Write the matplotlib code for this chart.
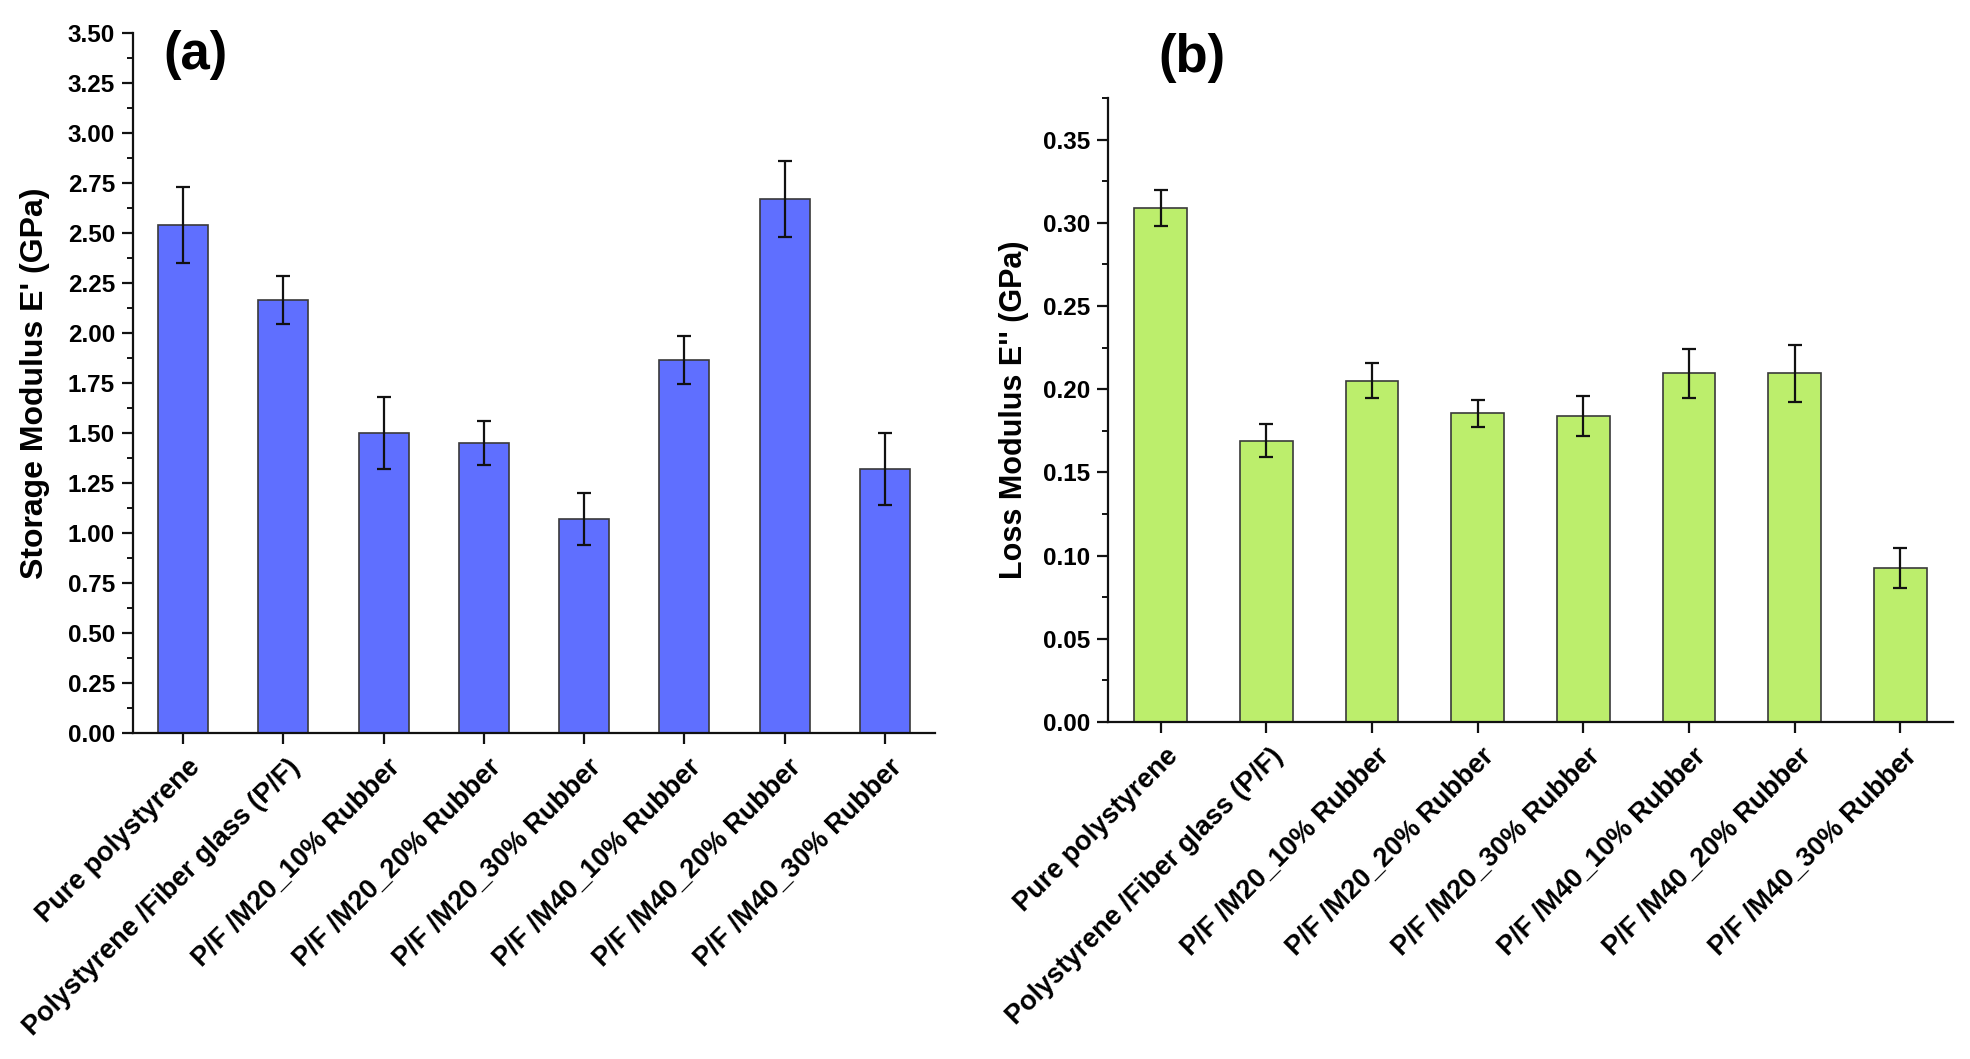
import matplotlib
matplotlib.use("Agg")
import matplotlib.pyplot as plt
from matplotlib.ticker import MultipleLocator, FormatStrFormatter
from matplotlib.transforms import ScaledTranslation

plt.rcParams['font.family'] = ['Liberation Sans', 'DejaVu Sans']

categories = ["Pure polystyrene", "Polystyrene /Fiber glass (P/F)",
              "P/F /M20_10% Rubber", "P/F /M20_20% Rubber", "P/F /M20_30% Rubber",
              "P/F /M40_10% Rubber", "P/F /M40_20% Rubber", "P/F /M40_30% Rubber"]
storage = [2.54, 2.165, 1.50, 1.45, 1.07, 1.865, 2.67, 1.32]
storage_err = [0.19, 0.12, 0.18, 0.11, 0.13, 0.12, 0.19, 0.18]
loss = [0.309, 0.169, 0.205, 0.1855, 0.184, 0.2095, 0.2095, 0.0925]
loss_err = [0.011, 0.010, 0.0105, 0.008, 0.012, 0.0145, 0.017, 0.0118]

W, H = 1970, 1059
fig = plt.figure(figsize=(W / 100, H / 100), dpi=100)

def px_axes(x0, x1, ytop, ybot):
    return fig.add_axes([x0 / W, 1 - ybot / H, (x1 - x0) / W, (ybot - ytop) / H])

ax1 = px_axes(133, 935, 33, 733)
ax2 = px_axes(1108, 1953, 98, 722)

def style(ax, vals, errs, color, ylim, major, minor, fmt, ylabel, labx, labsize):
    x = list(range(len(vals)))
    ax.bar(x, vals, width=0.5, color=color, edgecolor='#3a3a3a', linewidth=1.2, zorder=2)
    ax.errorbar(x, vals, yerr=errs, fmt='none', ecolor='#111111', elinewidth=1.6,
                capsize=5, capthick=1.6, zorder=3)
    ax.set_xlim(-0.5, len(vals) - 0.5)
    ax.set_ylim(*ylim)
    ax.yaxis.set_major_locator(MultipleLocator(major))
    ax.yaxis.set_minor_locator(MultipleLocator(minor))
    ax.yaxis.set_major_formatter(FormatStrFormatter(fmt))
    for s in ['top', 'right']:
        ax.spines[s].set_visible(False)
    for s in ['left', 'bottom']:
        ax.spines[s].set_linewidth(1.6)
        ax.spines[s].set_color('#111111')
    ax.tick_params(axis='both', which='major', direction='out', length=8, width=1.6,
                   color='#111111', labelsize=17.5, pad=5)
    ax.tick_params(axis='y', which='minor', direction='out', length=4, width=1.4, color='#111111')
    for lab in ax.get_yticklabels():
        lab.set_fontweight('bold')
    ax.set_xticks(x)
    ax.set_xticklabels(categories, rotation=45, ha='right', va='center',
                       rotation_mode='anchor', fontsize=19.5, fontweight='bold')
    ax.tick_params(axis='x', pad=14)
    shift = ScaledTranslation(13 / 100, 0, fig.dpi_scale_trans)
    for lab in ax.get_xticklabels():
        lab.set_transform(lab.get_transform() + shift)
    ax.set_ylabel(ylabel, fontsize=labsize, fontweight='bold')
    ax.yaxis.set_label_coords(labx, 0.5)

style(ax1, storage, storage_err, '#5f6fff', (0, 3.5), 0.25, 0.125, '%.2f',
      "Storage Modulus E' (GPa)", -0.1035, 23)
style(ax2, loss, loss_err, '#bcee6c', (0, 0.375), 0.05, 0.025, '%.2f',
      "Loss Modulus E'' (GPa)", -0.0935, 22)

fig.text(195 / W, 1 - 55 / H, '(a)', fontsize=38, fontweight='bold', ha='center', va='center')
fig.text(1192 / W, 1 - 58 / H, '(b)', fontsize=38, fontweight='bold', ha='center', va='center')

fig.savefig('out.png', dpi=100, facecolor='white')
